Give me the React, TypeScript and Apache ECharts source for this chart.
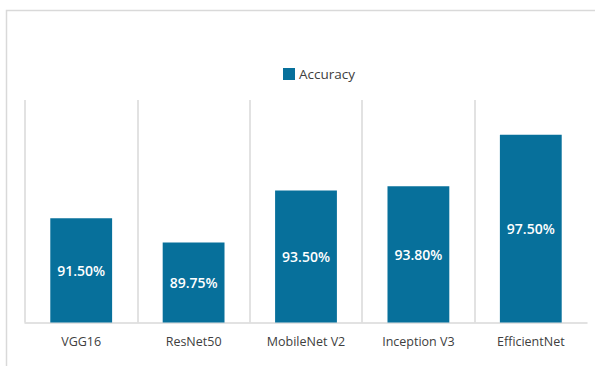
import React, { useEffect, useRef } from "react";
import * as echarts from "echarts";

const categories = ["VGG16", "ResNet50", "MobileNet V2", "Inception V3", "EfficientNet"];
const accuracy = [91.5, 89.75, 93.5, 93.8, 97.5];
const seriesName = "Accuracy";

export default function App() {
  const ref = useRef<HTMLDivElement>(null);
  useEffect(() => {
    if (!ref.current) return;
    const chart = echarts.init(ref.current, null, { renderer: "svg" });
    chart.setOption({
      animation: false,
      backgroundColor: "#ffffff",
      textStyle: { fontFamily: "Open Sans" },
      graphic: [
        {
          type: "rect",
          shape: { x: 6.5, y: 10.5, width: 620, height: 400 },
          style: { fill: "none", stroke: "#d9d9d9", lineWidth: 1.5 },
          silent: true,
          z: -1,
        },
      ],
      legend: {
        data: [seriesName],
        left: 278,
        top: 62,
        itemWidth: 12,
        itemHeight: 12,
        icon: "rect",
        textStyle: { color: "#404040", fontSize: 13.5, fontFamily: "Open Sans", padding: [0, 0, 0, -1] },
      },
      grid: { left: 25, right: 8, top: 100, bottom: 43.5, containLabel: false },
      xAxis: {
        type: "category",
        data: categories,
        boundaryGap: true,
        axisLine: { show: true, lineStyle: { color: "#d9d9d9", width: 1.5 } },
        axisTick: { show: false },
        splitLine: { show: true, showMaxLine: false, lineStyle: { color: "#d9d9d9", width: 1.5 } },
        axisLabel: { color: "#404040", fontSize: 12.5, margin: 12, fontFamily: "Open Sans" },
      },
      yAxis: {
        type: "value",
        min: 84,
        max: 100,
        show: false,
        splitLine: { show: false },
      },
      series: [
        {
          name: seriesName,
          type: "bar",
          data: accuracy,
          barWidth: "55%",
          itemStyle: { color: "#07709b" },
          label: {
            show: true,
            position: "inside",
            color: "#ffffff",
            fontSize: 14,
            fontWeight: 600,
            fontFamily: "Open Sans",
            formatter: (p: any) => p.value.toFixed(2) + "%",
          },
        },
      ],
    });
    return () => chart.dispose();
  }, []);
  return <div ref={ref} style={{ width: 595, height: 366, position: "absolute", left: 0, top: 0 }} />;
}
